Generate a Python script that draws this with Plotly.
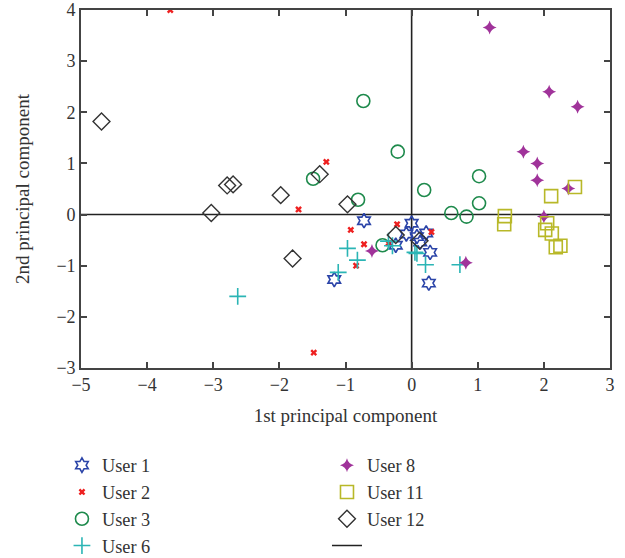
import plotly.graph_objects as go

# ---- data ----
u1_x = [-0.72, 0.0, -0.08, 0.08, 0.22, -0.24, 0.13, 0.28, -1.17, 0.26]
u1_y = [-0.12, -0.17, -0.38, -0.43, -0.36, -0.60, -0.54, -0.74, -1.27, -1.34]

u2_x = [-3.65, -1.29, -1.71, -0.92, -0.22, -0.72, -0.84, 0.30, -0.35, -1.48]
u2_y = [4.0, 1.03, 0.10, -0.30, -0.19, -0.58, -1.00, -0.34, -0.56, -2.70]

u3_x = [-0.73, -0.21, 0.19, -1.49, -0.81, 1.02, 1.02, 0.60, 0.83, -0.44]
u3_y = [2.22, 1.23, 0.48, 0.70, 0.29, 0.75, 0.22, 0.03, -0.04, -0.60]

u6_x = [-2.63, -0.97, -0.82, -1.11, -0.35, -0.29, 0.05, 0.08, 0.21, 0.73]
u6_y = [-1.60, -0.66, -0.89, -1.13, -0.52, -0.61, -0.74, -0.76, -0.98, -0.98]

u8_x = [1.18, 2.08, 2.51, 1.69, 1.90, 1.90, 2.37, 2.00, 0.82, -0.60]
u8_y = [3.66, 2.40, 2.11, 1.23, 1.00, 0.67, 0.51, -0.04, -0.94, -0.71]

u11_x = [2.47, 2.11, 1.41, 1.40, 2.05, 2.02, 2.12, 2.18, 2.25]
u11_y = [0.54, 0.36, -0.03, -0.19, -0.17, -0.30, -0.37, -0.64, -0.61]

u12_x = [-4.69, -2.79, -2.70, -3.03, -1.98, -1.39, -0.97, -1.80, -0.24, 0.12]
u12_y = [1.82, 0.57, 0.59, 0.03, 0.38, 0.79, 0.20, -0.86, -0.40, -0.51]

x_range = [-5, 3]
y_range = [-3, 4]
x_ticks = [-5, -4, -3, -2, -1, 0, 1, 2, 3]
y_ticks = [-3, -2, -1, 0, 1, 2, 3, 4]

FONT = "Liberation Serif"
TXT = "#333333"

fig = go.Figure()

# zero lines (also shown as an unlabeled legend entry)
fig.add_trace(go.Scatter(
    x=[x_range[0], x_range[1], None, 0, 0],
    y=[0, 0, None, y_range[0], y_range[1]],
    mode="lines", line=dict(color="#222222", width=1.6),
    name=" ", legend="legend2", legendrank=4, hoverinfo="skip"))

series = [
    ("User 1", u1_x, u1_y, dict(symbol="hexagram-open", size=11, color="#2b44a8", line=dict(width=1.6)), "legend", 1),
    ("User 2", u2_x, u2_y, dict(symbol="x", size=6, color="#ee2020", line=dict(width=0)), "legend", 2),
    ("User 3", u3_x, u3_y, dict(symbol="circle-open", size=13, color="#1e8a4c", line=dict(width=1.6)), "legend", 3),
    ("User 6", u6_x, u6_y, dict(symbol="cross-thin-open", size=12, color="#2bb5b5", line=dict(width=1.6)), "legend", 4),
    ("User 8", u8_x, u8_y, dict(symbol="star-diamond", size=10, color="#a0339a", line=dict(width=0)), "legend2", 1),
    ("User 11", u11_x, u11_y, dict(symbol="square-open", size=13, color="#b8b828", line=dict(width=1.6)), "legend2", 2),
    ("User 12", u12_x, u12_y, dict(symbol="diamond-open", size=13, color="#333333", line=dict(width=1.4)), "legend2", 3),
]
for name, xs, ys, mk, lg, rank in series:
    fig.add_trace(go.Scatter(x=xs, y=ys, mode="markers", marker=mk,
                             name=name, legend=lg, legendrank=rank))

axis_common = dict(
    showgrid=False, zeroline=False, showline=True, linecolor="#444444", linewidth=1.6,
    mirror="ticks", ticks="inside", ticklen=6, tickwidth=1.6, tickcolor="#444444",
    tickfont=dict(family=FONT, size=18, color=TXT), automargin=False,
    ticklabeloverflow="allow",
)
fig.update_xaxes(range=x_range, tickvals=x_ticks, **axis_common,
                 title=dict(text="1st principal component", font=dict(family=FONT, size=19, color=TXT), standoff=14))
fig.update_yaxes(range=y_range, tickvals=y_ticks, **axis_common,
                 title=dict(text="2nd principal component", font=dict(family=FONT, size=19, color=TXT), standoff=22))

leg_common = dict(font=dict(family=FONT, size=18.3, color=TXT), bgcolor="rgba(0,0,0,0)",
                  yanchor="top", xanchor="left", traceorder="normal")
fig.update_layout(
    width=625, height=558,
    margin=dict(l=81, r=15, t=10, b=190, autoexpand=False),
    paper_bgcolor="white", plot_bgcolor="white",
    showlegend=True,
    legend=dict(x=-0.036, y=-0.22, **leg_common),
    legend2=dict(x=0.465, y=-0.22, **leg_common),
)

fig.write_html("out.html", config={"displayModeBar": False},
               post_script="document.body.style.margin='0';document.body.style.overflow='hidden';")
